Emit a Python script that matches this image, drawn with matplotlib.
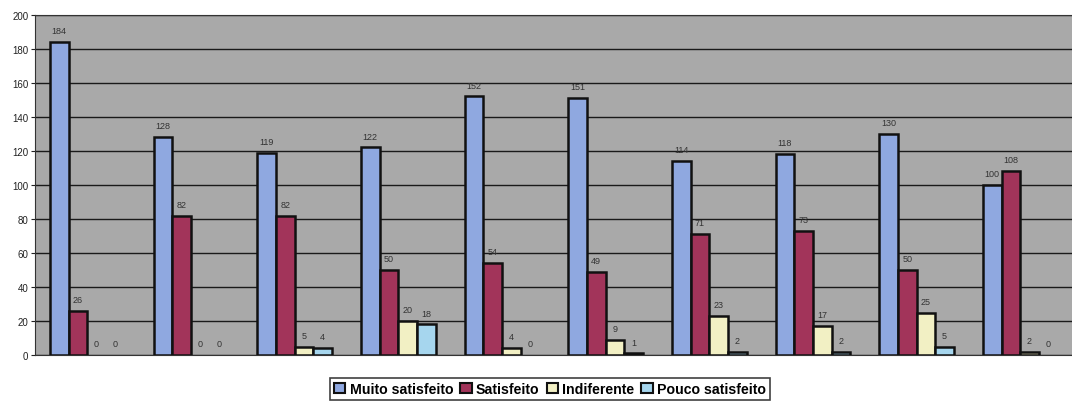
import numpy as np
import matplotlib
matplotlib.use("Agg")
import matplotlib.pyplot as plt
from matplotlib.patches import Patch

plt.rcParams['font.family'] = ['Liberation Sans', 'DejaVu Sans']

series_names = ["Muito satisfeito", "Satisfeito", "Indiferente", "Pouco satisfeito"]
muito = [184, 128, 119, 122, 152, 151, 114, 118, 130, 100]
satisf = [26, 82, 82, 50, 54, 49, 71, 73, 50, 108]
indif = [0, 0, 5, 20, 4, 9, 23, 17, 25, 2]
pouco = [0, 0, 4, 18, 0, 1, 2, 2, 5, 0]
y_ticks = [0, 20, 40, 60, 80, 100, 120, 140, 160, 180, 200]

colors = ["#8fa8e0", "#a2345a", "#f2f0c4", "#a6d6ee"]
data = [muito, satisf, indif, pouco]

fig = plt.figure(figsize=(10.72, 4.14), dpi=100)
ax = fig.add_axes([0.033, 0.14, 0.967, 0.822])
ax.set_facecolor("#a9a9a9")

n = len(muito)
x = np.arange(n)
w = 0.18
offsets = [-1.5 * w, -0.5 * w, 0.5 * w, 1.5 * w]
for vals, col, off in zip(data, colors, offsets):
    lws = [1.8 if v > 0 else 0 for v in vals]
    ax.bar(x + off, vals, width=w, color=col, edgecolor="#111111",
           linewidth=lws, zorder=3)
    for xi, v in zip(x + off, vals):
        ax.text(xi, v + 4, str(v), ha="center", va="bottom",
                fontsize=6.5, color="#333333", zorder=4)

ax.set_xlim(-0.5, n - 0.5)
ax.set_ylim(0, 200)
ax.set_yticks(y_ticks)
ax.tick_params(axis="y", labelsize=7, length=3, colors="#222222", pad=2)
ax.set_xticks([])
ax.yaxis.grid(True, color="#1a1a1a", linewidth=1.0, zorder=1)
ax.set_axisbelow(True)
ax.spines["right"].set_visible(False)
for s in ["top", "left", "bottom"]:
    ax.spines[s].set_color("#333333")

handles = [Patch(facecolor=c, edgecolor="#111111", linewidth=1.5, label=nm)
           for c, nm in zip(colors, series_names)]
leg = fig.legend(handles=handles, loc="center", bbox_to_anchor=(0.513, 0.058),
                 ncol=4, frameon=True, fancybox=False,
                 prop={'size': 10.2, 'weight': 'bold'},
                 handlelength=0.8, handleheight=0.8, handletextpad=0.3,
                 columnspacing=0.5, borderpad=0.3)
leg.get_frame().set_edgecolor("#111111")
leg.get_frame().set_linewidth(1.2)

fig.savefig("out.png", dpi=100)
